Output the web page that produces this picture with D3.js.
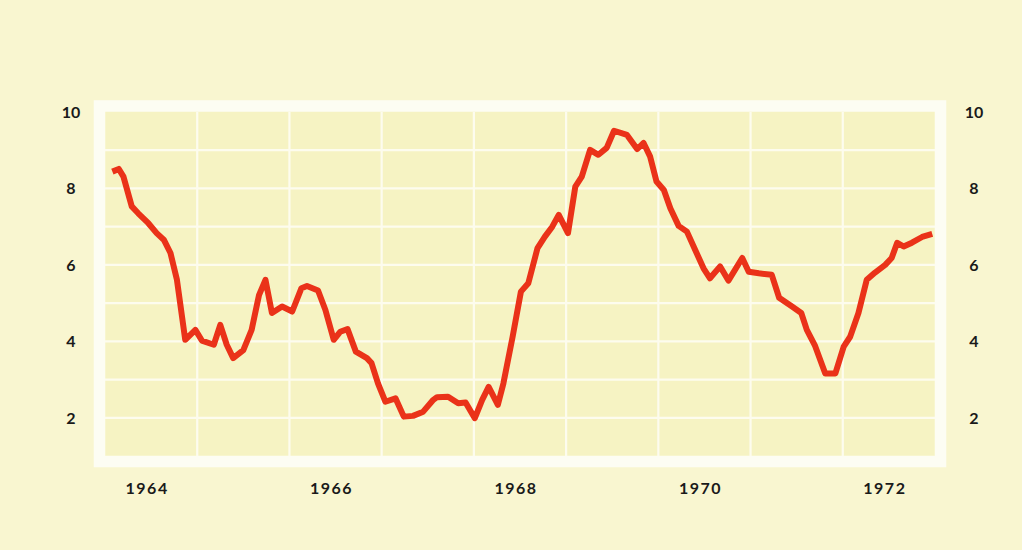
<!DOCTYPE html>
<html>
<head>
<meta charset="utf-8">
<script src="https://cdn.jsdelivr.net/npm/d3@7"></script>
<style>
  body { margin: 0; background: #f9f6d0; }
  svg { display: block; }
  .lbl { font-family: Lato, "DejaVu Sans", sans-serif; font-weight: bold; font-size: 16px; fill: #1a1a1a; }
</style>
</head>
<body>
<div id="chart"></div>
<script>
// time as fractional years
const times = [
  1964.08, 1964.15, 1964.20, 1964.29, 1964.36, 1964.47, 1964.56, 1964.64, 1964.71, 1964.78,
  1964.87, 1964.98, 1965.05, 1965.18, 1965.25, 1965.32, 1965.39, 1965.50, 1965.59, 1965.67,
  1965.74, 1965.81, 1965.92, 1966.03, 1966.13, 1966.19, 1966.31, 1966.39, 1966.48, 1966.55,
  1966.63, 1966.72, 1966.84, 1966.89, 1966.96, 1967.04, 1967.15, 1967.24, 1967.34, 1967.45,
  1967.56, 1967.60, 1967.72, 1967.83, 1967.91, 1968.01, 1968.09, 1968.16, 1968.26, 1968.32,
  1968.42, 1968.51, 1968.59, 1968.69, 1968.77, 1968.85, 1968.92, 1969.02, 1969.10, 1969.17,
  1969.26, 1969.35, 1969.44, 1969.52, 1969.66, 1969.77, 1969.84, 1969.91, 1969.98, 1970.06,
  1970.13, 1970.22, 1970.31, 1970.40, 1970.49, 1970.56, 1970.67, 1970.76, 1970.91, 1970.98,
  1971.09, 1971.23, 1971.31, 1971.45, 1971.55, 1971.61, 1971.70, 1971.81, 1971.92, 1972.01,
  1972.08, 1972.17, 1972.26, 1972.35, 1972.46, 1972.53, 1972.59, 1972.66, 1972.75, 1972.86,
  1972.97
];
const rates = [
  8.44, 8.51, 8.31, 7.53, 7.35, 7.09, 6.83, 6.65, 6.31, 5.61,
  4.04, 4.30, 4.02, 3.91, 4.43, 3.91, 3.56, 3.77, 4.30, 5.21,
  5.61, 4.74, 4.91, 4.78, 5.39, 5.45, 5.33, 4.82, 4.04, 4.25,
  4.32, 3.73, 3.56, 3.43, 2.90, 2.42, 2.51, 2.03, 2.05, 2.16,
  2.47, 2.54, 2.55, 2.38, 2.40, 1.99, 2.47, 2.81, 2.34, 2.90,
  4.12, 5.30, 5.52, 6.44, 6.74, 7.00, 7.31, 6.83, 8.05, 8.31,
  9.01, 8.88, 9.06, 9.51, 9.40, 9.03, 9.19, 8.84, 8.18, 7.96,
  7.48, 7.02, 6.87, 6.39, 5.91, 5.65, 5.96, 5.59, 6.18, 5.82,
  5.78, 5.74, 5.14, 4.91, 4.74, 4.30, 3.88, 3.16, 3.16, 3.86,
  4.12, 4.74, 5.61, 5.80, 6.00, 6.18, 6.58, 6.48, 6.58, 6.73,
  6.81
];
const yearLabels = [1964, 1966, 1968, 1970, 1972];
const valueTicks = [2, 4, 6, 8, 10];

const width = 1022, height = 550;
const plotLeft = 105, plotRight = 935, plotTop = 112, plotBottom = 456;

const x = d3.scaleLinear().domain([1964, 1973]).range([plotLeft, plotRight]);
const y = d3.scaleLinear().domain([1, 10]).range([plotBottom, plotTop]);

const svg = d3.select("#chart").append("svg")
  .attr("width", width)
  .attr("height", height);

svg.append("rect")
  .attr("width", width).attr("height", height)
  .attr("fill", "#f9f6d0");

// white frame
svg.append("rect")
  .attr("x", plotLeft - 5.5).attr("y", plotTop - 6)
  .attr("width", plotRight - plotLeft + 11).attr("height", plotBottom - plotTop + 11.5)
  .attr("fill", "#f6f3c3")
  .attr("stroke", "#fdfdf3")
  .attr("stroke-width", 11.5);

// grid
svg.append("g").selectAll("line")
  .data(d3.range(2, 10))
  .enter().append("line")
  .attr("x1", plotLeft).attr("x2", plotRight)
  .attr("y1", d => y(d)).attr("y2", d => y(d))
  .attr("stroke", "#fdfcee").attr("stroke-width", 2.2);

svg.append("g").selectAll("line")
  .data(d3.range(1965, 1973))
  .enter().append("line")
  .attr("y1", plotTop).attr("y2", plotBottom)
  .attr("x1", d => x(d)).attr("x2", d => x(d))
  .attr("stroke", "#fdfcee").attr("stroke-width", 2.2);

// value labels on both sides
[71, 974].forEach(px => {
  svg.append("g").selectAll("text")
    .data(valueTicks)
    .enter().append("text")
    .attr("class", "lbl")
    .attr("x", px)
    .attr("y", d => y(d))
    .attr("dy", "0.36em")
    .attr("text-anchor", "middle")
    .text(d => d);
});

// year labels, centred in their column
svg.append("g").selectAll("text")
  .data(yearLabels)
  .enter().append("text")
  .attr("class", "lbl")
  .attr("x", d => x(d + 0.5) - 4)
  .attr("y", 494)
  .attr("text-anchor", "middle")
  .attr("letter-spacing", "1.5px")
  .text(d => d);

const line = d3.line()
  .x((d, i) => x(times[i]))
  .y(d => y(d));

svg.append("path")
  .attr("d", line(rates))
  .attr("fill", "none")
  .attr("stroke", "#ea3219")
  .attr("stroke-width", 6)
  .attr("stroke-linejoin", "round")
  .attr("stroke-linecap", "butt");
</script>
</body>
</html>
